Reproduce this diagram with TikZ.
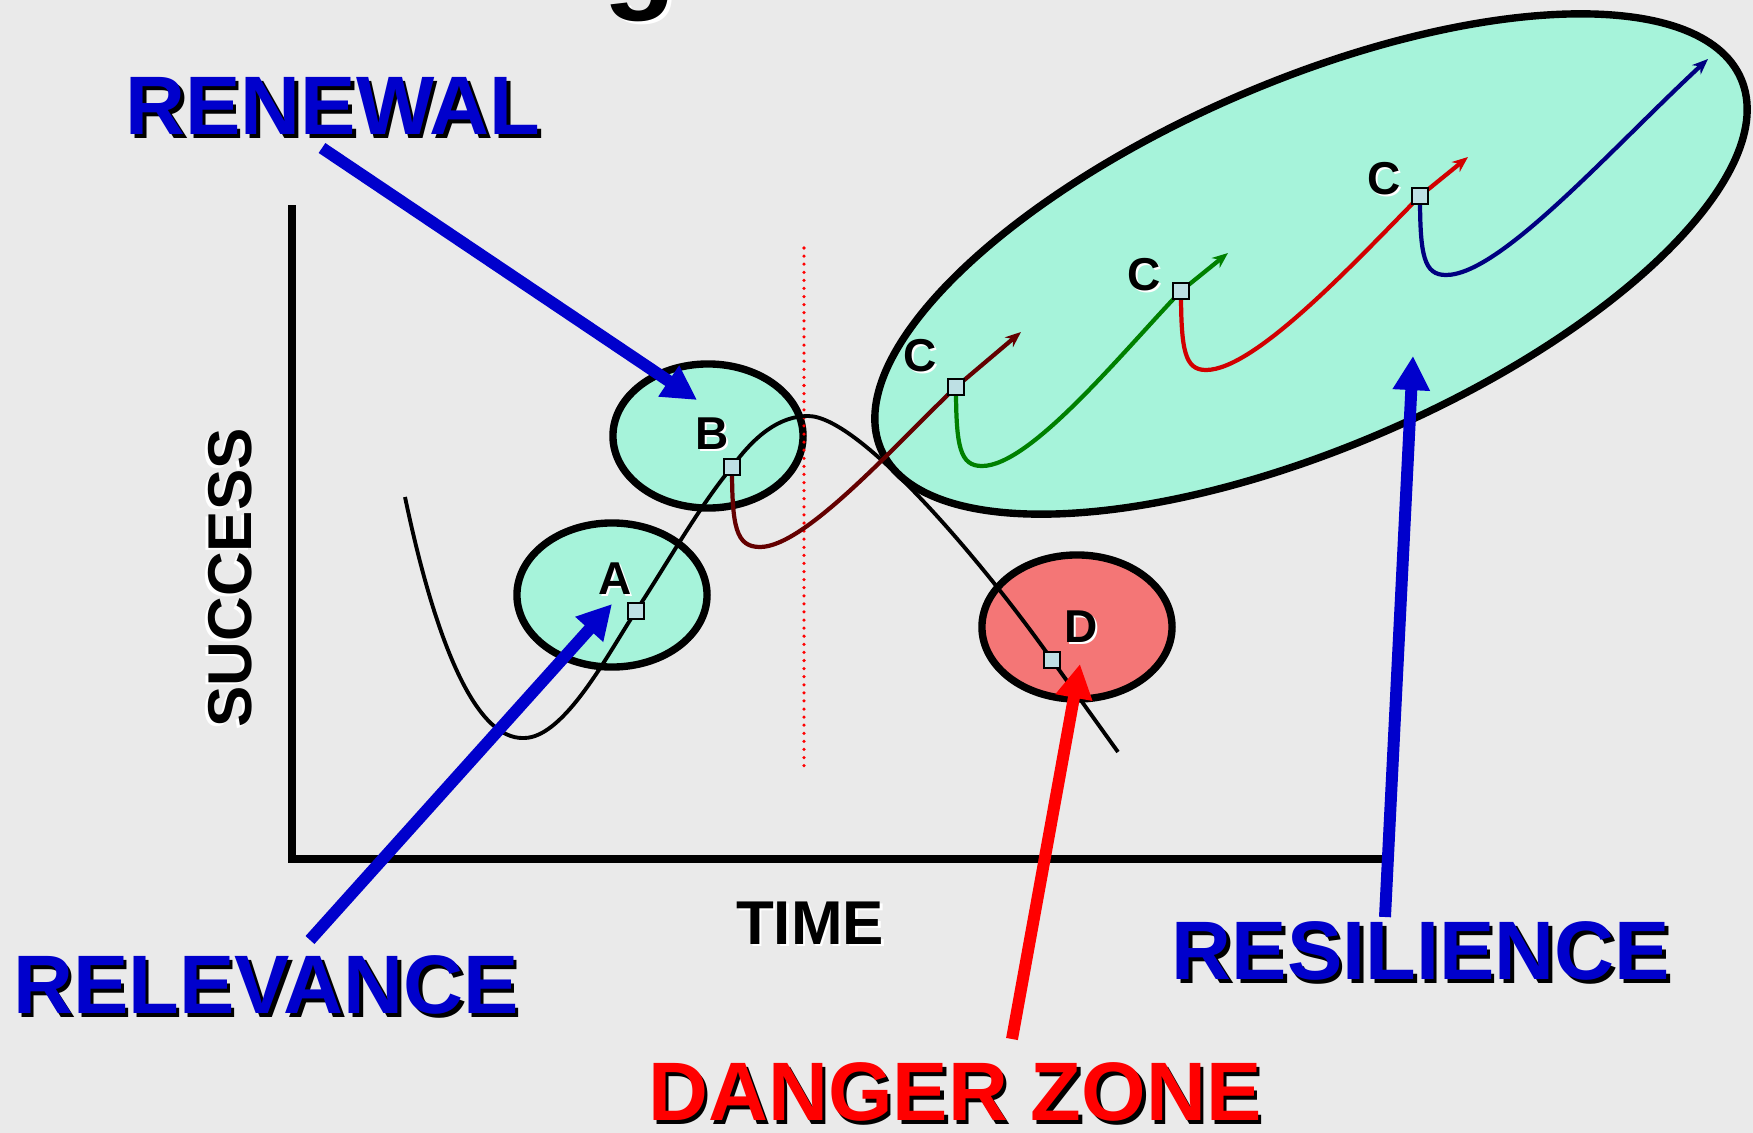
\documentclass[tikz,border=0pt]{standalone}
\usepackage{fontspec}
\setmainfont{Liberation Sans}
\usetikzlibrary{shapes.geometric,arrows.meta}

\definecolor{bggray}{RGB}{234,234,234}
\definecolor{mint}{RGB}{166,243,218}
\definecolor{salmon}{RGB}{244,118,118}
\definecolor{wordblue}{RGB}{0,0,204}
\definecolor{wordred}{RGB}{255,0,0}
\definecolor{probefill}{RGB}{190,224,228}
\definecolor{darkred}{RGB}{100,0,0}
\definecolor{leafgreen}{RGB}{0,128,0}
\definecolor{brightred}{RGB}{210,0,0}
\definecolor{navyblue}{RGB}{0,0,128}

\tikzset{
  zone/.style={ellipse, draw, line width=2.1pt, fill=mint, minimum width=1.9cm, minimum height=1.44cm, inner sep=0pt},
  bigword/.style={font=\fontsize{23.6}{28}\selectfont\bfseries, inner sep=0pt},
  axisword/.style={font=\fontsize{17.6}{21}\selectfont\bfseries, inner sep=0pt},
  letter/.style={font=\fontsize{13.1}{16}\selectfont\bfseries, inner sep=0pt},
  bigarrow/.style={line width=3.4pt, -{Triangle[length=9.7pt,width=10pt]}},
  trail/.style={line width=1.2pt, -{Stealth[length=4.5pt,width=3.6pt]}},
  probe/.style={rectangle, draw, fill=probefill, line width=0.5pt, minimum size=0.167cm, inner sep=0pt}
}

\begin{document}
\begin{tikzpicture}[x=0.01cm, y=-0.01cm]
  \useasboundingbox (0,0) rectangle (1753,1133);
  \clip (0,0) rectangle (1753,1133);
  \fill[bggray] (0,0) rectangle (1753,1133);

  % title, cut off by the top edge
  \node[font=\fontsize{34}{40}\selectfont\bfseries, anchor=base, text=white] at ([xshift=1pt,yshift=-1pt]640,-4) {g};
  \node[font=\fontsize{34}{40}\selectfont\bfseries, anchor=base] (title) at (640,-4) {g};

  % zones
  \node[zone, minimum width=9.36cm, minimum height=3.66cm, rotate=23.3] (zoneC) at (1311,264) {};
  \node[zone] (zoneA) at (612,595) {};
  \node[zone] (zoneB) at (708,436) {};
  \node[zone, fill=salmon] (zoneD) at (1077,627) {};

  % axes
  \draw[line width=2.3pt] (292,205) -- (292,859) -- (1386,859);
  \draw[wordred, line width=1pt, line cap=round, dash pattern=on 0pt off 2.3pt] (804,248) -- (804,771);

  % points on the curves
  \coordinate (start) at (405,497);
  \coordinate (low) at (524,738);
  \coordinate (pA) at (636,611);
  \coordinate (pB) at (732,467);
  \coordinate (top) at (808,416);
  \coordinate (pD) at (1052,660);
  \coordinate (finish) at (1118,752);
  \coordinate (pC1) at (956,387);
  \coordinate (pC2) at (1181,291);
  \coordinate (pC3) at (1420,196);

  % life cycle
  \draw[line width=1.1pt] (start) .. controls (435,640) and (475,740) .. (low)
    .. controls (565,738) and (610,650) .. (pA)
    .. controls (665,567) and (700,505) .. (pB)
    .. controls (755,435) and (780,416) .. (top)
    .. controls (860,416) and (985,565) .. (pD) -- (finish);

  % renewals
  \draw[trail, darkred] (pB) .. controls +(0,60) and (736,547) .. (760,547)
    .. controls (805,547) and (895,445) .. (pC1) -- (1021,332);
  \draw[trail, leafgreen] (pC1) .. controls +(0,60) and (960,466) .. (982,466)
    .. controls (1030,466) and (1120,355) .. (pC2) -- (1228,253);
  \draw[trail, brightred] (pC2) .. controls +(0,60) and (1185,370) .. (1206,370)
    .. controls (1255,370) and (1355,262) .. (pC3) -- (1468,157);
  \draw[trail, navyblue] (pC3) .. controls +(0,60) and (1424,275) .. (1446,275)
    .. controls (1500,275) and (1610,150) .. (1708,59);

  \node[probe] (sqA) at (pA) {};
  \node[probe] (sqB) at (pB) {};
  \node[probe] (sqD) at (pD) {};
  \node[probe] (sqC1) at (pC1) {};
  \node[probe] (sqC2) at (pC2) {};
  \node[probe] (sqC3) at (pC3) {};

  % letters
  \node[letter, text=white] at ([xshift=0.6pt,yshift=-0.6pt]615,579) {A};
  \node[letter] (labA) at (615,579) {A};
  \node[letter, text=white] at ([xshift=0.6pt,yshift=-0.6pt]712,434) {B};
  \node[letter] (labB) at (712,434) {B};
  \node[letter, text=white] at ([xshift=0.6pt,yshift=-0.6pt]1081,627) {D};
  \node[letter] (labD) at (1081,627) {D};
  \node[letter, text=white] at ([xshift=0.6pt,yshift=-0.6pt]920,356) {C};
  \node[letter] (labC1) at (920,356) {C};
  \node[letter, text=white] at ([xshift=0.6pt,yshift=-0.6pt]1144,275) {C};
  \node[letter] (labC2) at (1144,275) {C};
  \node[letter, text=white] at ([xshift=0.6pt,yshift=-0.6pt]1384,179) {C};
  \node[letter] (labC3) at (1384,179) {C};

  % axis names
  \node[axisword, text=white] at ([xshift=0.7pt,yshift=-0.7pt]810,923) {TIME};
  \node[axisword] (time) at (810,923) {TIME};
  \node[axisword, rotate=90, text=white] at ([xshift=-0.7pt,yshift=-0.7pt]230,578) {SUCCESS};
  \node[axisword, rotate=90] (success) at (230,578) {SUCCESS};

  % the four words
  \node[bigword] at ([xshift=1pt,yshift=-1pt]333,106) {RENEWAL};
  \node[bigword, text=wordblue] (renewal) at (333,106) {RENEWAL};
  \node[bigword] at ([xshift=1pt,yshift=-1pt]266,985) {RELEVANCE};
  \node[bigword, text=wordblue] (relevance) at (266,985) {RELEVANCE};
  \node[bigword] at ([xshift=1pt,yshift=-1pt]1421,951) {RESILIENCE};
  \node[bigword, text=wordblue] (resilience) at (1421,951) {RESILIENCE};
  \node[bigword] at ([xshift=1pt,yshift=-1pt]955,1092) {DANGER ZONE};
  \node[bigword, text=wordred] (danger) at (955,1092) {DANGER ZONE};

  \coordinate (renewalTail) at (322,148);
  \coordinate (relevanceTail) at (310,940);
  \coordinate (resilienceTail) at (1385,917);
  \coordinate (dangerTail) at (1012,1039);
  \coordinate (tipA) at (612,604);
  \coordinate (tipB) at (697,400);
  \coordinate (tipC) at (1413,356);
  \coordinate (tipD) at (1080,664);

  \draw[bigarrow, wordblue] (renewalTail) -- (tipB);
  \draw[bigarrow, wordblue] (relevanceTail) -- (tipA);
  \draw[bigarrow, wordblue] (resilienceTail) -- (tipC);
  \draw[bigarrow, wordred] (dangerTail) -- (tipD);
\end{tikzpicture}
\end{document}
